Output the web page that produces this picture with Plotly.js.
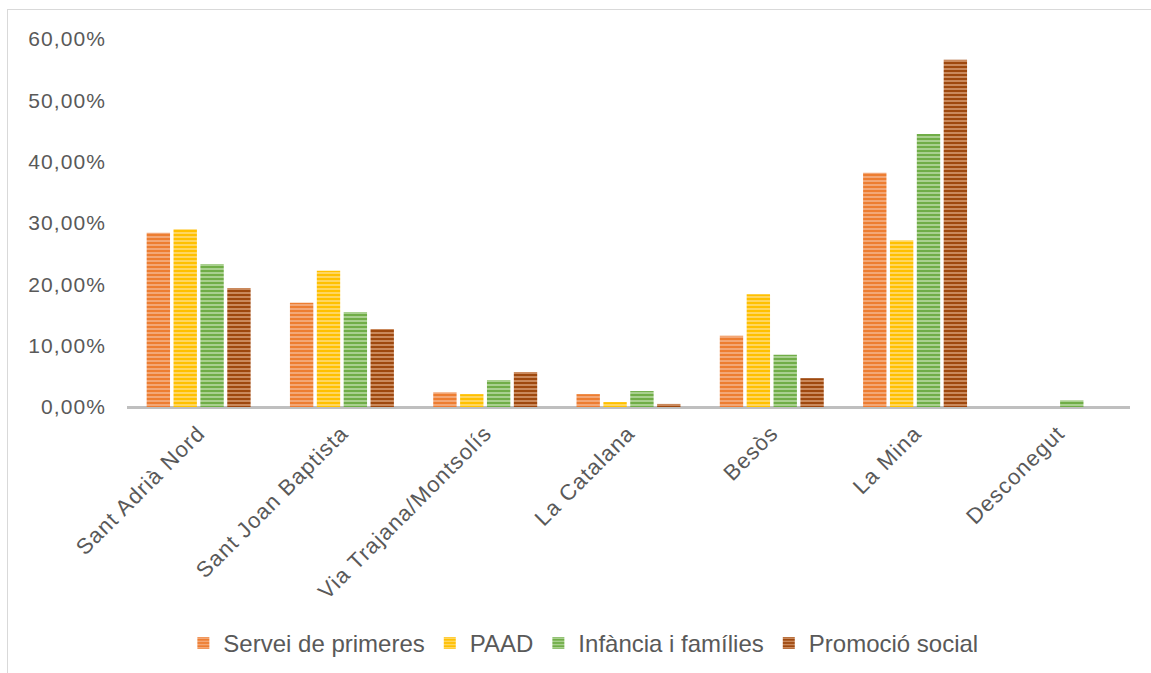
<!DOCTYPE html>
<html>
<head>
<meta charset="utf-8">
<script src="https://cdn.plot.ly/plotly-3.0.1.min.js"></script>
<style>
  html, body { margin: 0; padding: 0; background: #fff; }
  #frame { position: absolute; left: 7px; top: 9px; width: 1160px; height: 680px; border: 1px solid #d9d9d9; box-sizing: border-box; }
  #chart { position: absolute; left: 0; top: 0; width: 1151px; height: 673px; }
  .xtick text, .ytick text { letter-spacing: 1.1px; }
</style>
</head>
<body>
<div id="frame"></div>
<div id="chart"></div>
<script>
const categories = ["Sant Adrià Nord", "Sant Joan Baptista", "Via Trajana/Montsolís", "La Catalana", "Besòs", "La Mina", "Desconegut"];
const seriesNames = ["Servei de primeres", "PAAD", "Infància i famílies", "Promoció social"];
const serveiPrimeres = [28.4, 17.0, 2.4, 2.1, 11.6, 38.2, 0];
const paad = [29.0, 22.2, 2.1, 0.8, 18.4, 27.2, 0];
const infanciaFamilies = [23.3, 15.5, 4.4, 2.6, 8.5, 44.5, 1.1];
const promocioSocial = [19.4, 12.7, 5.7, 0.5, 4.7, 56.6, 0];
const yTicks = [0, 10, 20, 30, 40, 50, 60];
const yTickText = yTicks.map(v => v.toFixed(2).replace(".", ",") + "%");

const baseColors = ["#ED7D31", "#FFC000", "#70AD47", "#9E480E"];
const stripeColors = ["#F6B994", "#FFE08A", "#C2DFAE", "#DDA57E"];
const allValues = [serveiPrimeres, paad, infanciaFamilies, promocioSocial];

const traces = allValues.map((vals, i) => ({
  type: "bar",
  name: seriesNames[i],
  x: categories,
  y: vals,
  marker: {
    color: baseColors[i],
    line: { width: 0 },
    pattern: { shape: "-", fillmode: "replace", bgcolor: baseColors[i], fgcolor: stripeColors[i], size: 4, solidity: 0.35 }
  },
  hoverinfo: "x+y+name"
}));

const layout = {
  width: 1151, height: 673,
  margin: { l: 127, r: 21, t: 39, b: 266, autoexpand: false },
  paper_bgcolor: "rgba(0,0,0,0)",
  plot_bgcolor: "rgba(0,0,0,0)",
  font: { family: "Liberation Sans, Arial, sans-serif", size: 21, color: "#595959" },
  barmode: "group",
  bargap: 0.25,
  bargroupgap: 0.13,
  showlegend: true,
  legend: {
    orientation: "h", x: 0.455, xanchor: "center",
    yref: "container", y: 0.044, yanchor: "middle",
    font: { size: 24, color: "#595959" }, itemwidth: 30, traceorder: "normal"
  },
  xaxis: {
    type: "category",
    tickangle: -45,
    showgrid: false, zeroline: false,
    showline: false,
    ticks: "",
    ticklabelstandoff: 8,
    tickfont: { size: 22, color: "#595959" }
  },
  yaxis: {
    range: [0, 60],
    tickmode: "array",
    tickvals: yTicks,
    ticktext: yTickText,
    showgrid: false,
    zeroline: true, zerolinecolor: "#bfbfbf", zerolinewidth: 3,
    showline: false, ticks: "",
    ticklabelstandoff: 20,
    tickfont: { size: 21, color: "#595959" }
  }
};

Plotly.newPlot("chart", traces, layout, { displayModeBar: false, staticPlot: true });
</script>
</body>
</html>
